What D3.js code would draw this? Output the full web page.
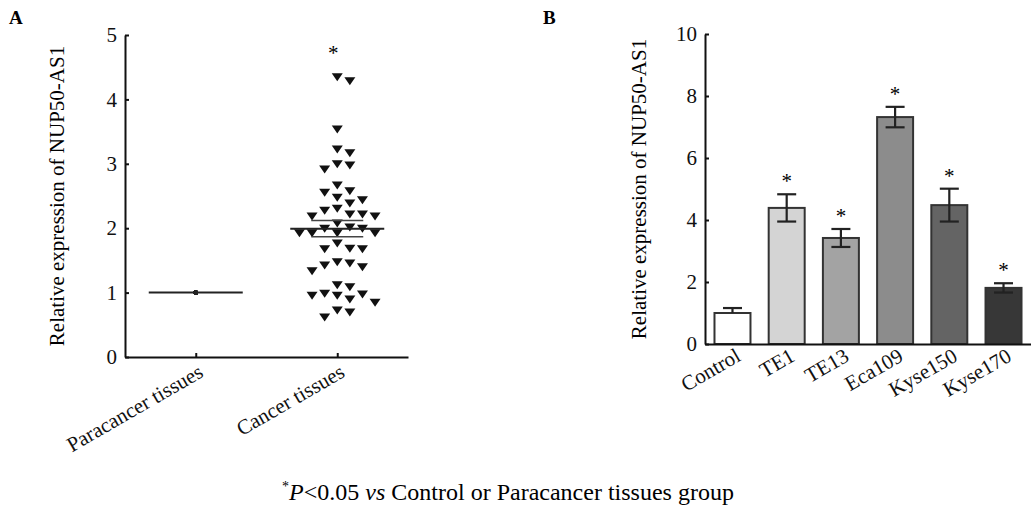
<!DOCTYPE html>
<html>
<head>
<meta charset="utf-8">
<script src="https://cdn.jsdelivr.net/npm/d3@7"></script>
<style>
body{margin:0;background:#fff;}
svg{font-family:"Liberation Serif","Times New Roman",serif;}
.axis path,.axis line{stroke:#111;stroke-width:2;}
.axis text{font-size:21px;fill:#111;font-family:"Liberation Serif","Times New Roman",serif;}
</style>
</head>
<body>
<svg id="chart" width="1031" height="508"></svg>
<script>
// panel A - qRT-PCR in tissues
var groupsA = ["Paracancer tissues", "Cancer tissues"];
var paracancer = [1,1,1,1,1,1,1,1,1,1,1,1,1,1,1,1,1,1,1,1,1,1,1,1,
                  1,1,1,1,1,1,1,1,1,1,1,1,1,1,1,1,1,1,1,1,1,1,1,1];
var cancer = [4.35, 4.29, 3.54, 3.23, 3.17, 3.00, 2.92, 2.98, 2.67, 2.58, 2.56, 2.44,
              2.48, 2.31, 2.28, 2.39, 2.22, 2.22, 2.19, 2.19, 2.08, 2.00, 1.93, 1.93,
              1.93, 1.93, 2.00, 2.02, 1.69, 1.68, 1.68, 1.77, 1.46, 1.40, 1.34, 1.43,
              1.48, 1.09, 1.12, 0.99, 0.98, 0.90, 0.85, 0.96, 0.96, 0.73, 0.62, 0.70];
var ticksA = [0, 1, 2, 3, 4, 5];

// panel B - cell lines
var cellLines = ["Control", "TE1", "TE13", "Eca109", "Kyse150", "Kyse170"];
var expr = [1.00, 4.39, 3.42, 7.32, 4.48, 1.81];
var sem = [0.16, 0.44, 0.29, 0.33, 0.53, 0.15];
var ticksB = [0, 2, 4, 6, 8, 10];
var barColors = ["#ffffff", "#d4d4d4", "#a3a3a3", "#8c8c8c", "#646464", "#373737"];

var svg = d3.select("#chart");

//panel letters
svg.append("text").attr("x", 9).attr("y", 24).text("A")
   .style("font-size", "19px").style("font-weight", "bold");
svg.append("text").attr("x", 543).attr("y", 24).text("B")
   .style("font-size", "19px").style("font-weight", "bold");

// ---------- panel A ----------
var yA = d3.scaleLinear().domain([0, 5]).range([357, 35]);
var xA = d3.scalePoint().domain(groupsA).range([125, 408]).padding(0.5);

var gA = svg.append("g");

var yAxisA = d3.axisLeft(yA).tickValues(ticksA).tickFormat(d3.format("d"))
               .tickSize(-4).tickSizeOuter(0).tickPadding(8);
gA.append("g").attr("class", "axis").attr("transform", "translate(125,0)").call(yAxisA);

var xAxisA = d3.axisBottom(xA).tickSize(-4).tickSizeOuter(0);
var xgA = gA.append("g").attr("class", "axis").attr("transform", "translate(0,357)").call(xAxisA);
xgA.selectAll("text")
   .attr("y", 0).attr("x", 0).attr("dy", "0.71em")
   .attr("text-anchor", "end")
   .attr("transform", "translate(1,6) rotate(-30)");

gA.append("text")
  .attr("transform", "translate(64," + ((yA(0) + yA(5)) / 2) + ") rotate(-90)")
  .attr("text-anchor", "middle")
  .style("font-size", "21px")
  .text("Relative expression of NUP50-AS1");

// beeswarm dodge for cancer points
var colW = 12.6, minGap = 9.5;
var placed = [];
cancer.slice().sort(d3.descending).forEach(function(v){
	var y = yA(v);
	for(var k = 0; k < 20; k++){
		var c = k === 0 ? 0 : (k % 2 ? (k + 1) / 2 : -k / 2);
		var hit = placed.some(function(p){ return p.c === c && Math.abs(p.y - y) < minGap; });
		if(!hit){ placed.push({v: v, y: y, c: c}); break; }
	}
});

var tri = "M-5.5,-3.5L5.5,-3.5L0,4.5Z";
gA.append("g").selectAll("path").data(placed).enter().append("path")
  .attr("d", tri)
  .attr("transform", function(d){ return "translate(" + (xA("Cancer tissues") + d.c * colW) + "," + d.y + ")"; })
  .style("fill", "#111");

gA.append("g").selectAll("circle").data(paracancer).enter().append("circle")
  .attr("cx", xA("Paracancer tissues"))
  .attr("cy", function(d){ return yA(d); })
  .attr("r", 2.2)
  .style("fill", "#222");

// mean and SEM lines
var statsA = [
	{g: groupsA[0], m: d3.mean(paracancer), s: 0},
	{g: groupsA[1], m: d3.mean(cancer), s: d3.deviation(cancer) / Math.sqrt(cancer.length)}
];
statsA.forEach(function(d){
	var cx = xA(d.g);
	gA.append("line").attr("x1", cx - 47).attr("x2", cx + 47)
	  .attr("y1", yA(d.m)).attr("y2", yA(d.m))
	  .style("stroke", "#222").style("stroke-width", 2);
	if(d.s > 0){
		[d.m - d.s, d.m + d.s].forEach(function(v){
			gA.append("line").attr("x1", cx - 26).attr("x2", cx + 26)
			  .attr("y1", yA(v)).attr("y2", yA(v))
			  .style("stroke", "#444").style("stroke-width", 1.5);
		});
	}
});

gA.append("text")
  .attr("x", xA("Cancer tissues") - 4)
  .attr("y", yA(d3.max(cancer)) - 17)
  .attr("text-anchor", "middle")
  .style("font-size", "21px")
  .text("*");

// ---------- panel B ----------
var yB = d3.scaleLinear().domain([0, 10]).range([344, 34]);
var xB = d3.scaleBand().domain(cellLines).range([705, 1031]).paddingInner(0.336).paddingOuter(0.175);

var gB = svg.append("g");

var yAxisB = d3.axisLeft(yB).tickValues(ticksB).tickSize(-4).tickSizeOuter(0).tickPadding(8);
gB.append("g").attr("class", "axis").attr("transform", "translate(705,0)").call(yAxisB);

gB.append("text")
  .attr("transform", "translate(646," + ((yB(0) + yB(10)) / 2) + ") rotate(-90)")
  .attr("text-anchor", "middle")
  .style("font-size", "21px")
  .text("Relative expression of NUP50-AS1");

gB.append("g").selectAll("rect").data(cellLines).enter().append("rect")
  .attr("x", function(d){ return xB(d); })
  .attr("y", function(d, i){ return yB(expr[i]); })
  .attr("width", xB.bandwidth())
  .attr("height", function(d, i){ return yB(0) - yB(expr[i]); })
  .style("fill", function(d, i){ return barColors[i]; })
  .style("stroke", "#333")
  .style("stroke-width", 2);

// error bars
var capW = 9.5;
cellLines.forEach(function(d, i){
	var cx = xB(d) + xB.bandwidth() / 2;
	var top = yB(expr[i] + sem[i]);
	var bot = d === "Control" ? yB(expr[i]) : yB(expr[i] - sem[i]);
	var eg = gB.append("g").style("stroke", "#222").style("stroke-width", 2.2);
	eg.append("line").attr("x1", cx).attr("x2", cx).attr("y1", top).attr("y2", bot);
	eg.append("line").attr("x1", cx - capW).attr("x2", cx + capW).attr("y1", top).attr("y2", top);
	if(d !== "Control"){
		eg.append("line").attr("x1", cx - capW).attr("x2", cx + capW).attr("y1", bot).attr("y2", bot);
		gB.append("text").attr("x", cx).attr("y", top - 6)
		  .attr("text-anchor", "middle").style("font-size", "21px").text("*");
	}
});

var xAxisB = d3.axisBottom(xB).tickSize(0).tickSizeOuter(0);
var xgB = gB.append("g").attr("class", "axis").attr("transform", "translate(0,344)").call(xAxisB);
xgB.selectAll("text")
   .attr("y", 0).attr("x", 0).attr("dy", "0.71em")
   .attr("text-anchor", "end")
   .attr("transform", "translate(2,3) rotate(-30)");

// footnote
var note = svg.append("text").attr("x", 508).attr("y", 500).attr("text-anchor", "middle")
  .style("font-size", "24px");
note.append("tspan").text("*").attr("dy", -9).style("font-size", "14px");
note.append("tspan").text("P").attr("dy", 9).style("font-style", "italic");
note.append("tspan").text("<0.05 ");
note.append("tspan").text("vs").style("font-style", "italic");
note.append("tspan").text(" Control or Paracancer tissues group");
</script>
</body>
</html>
